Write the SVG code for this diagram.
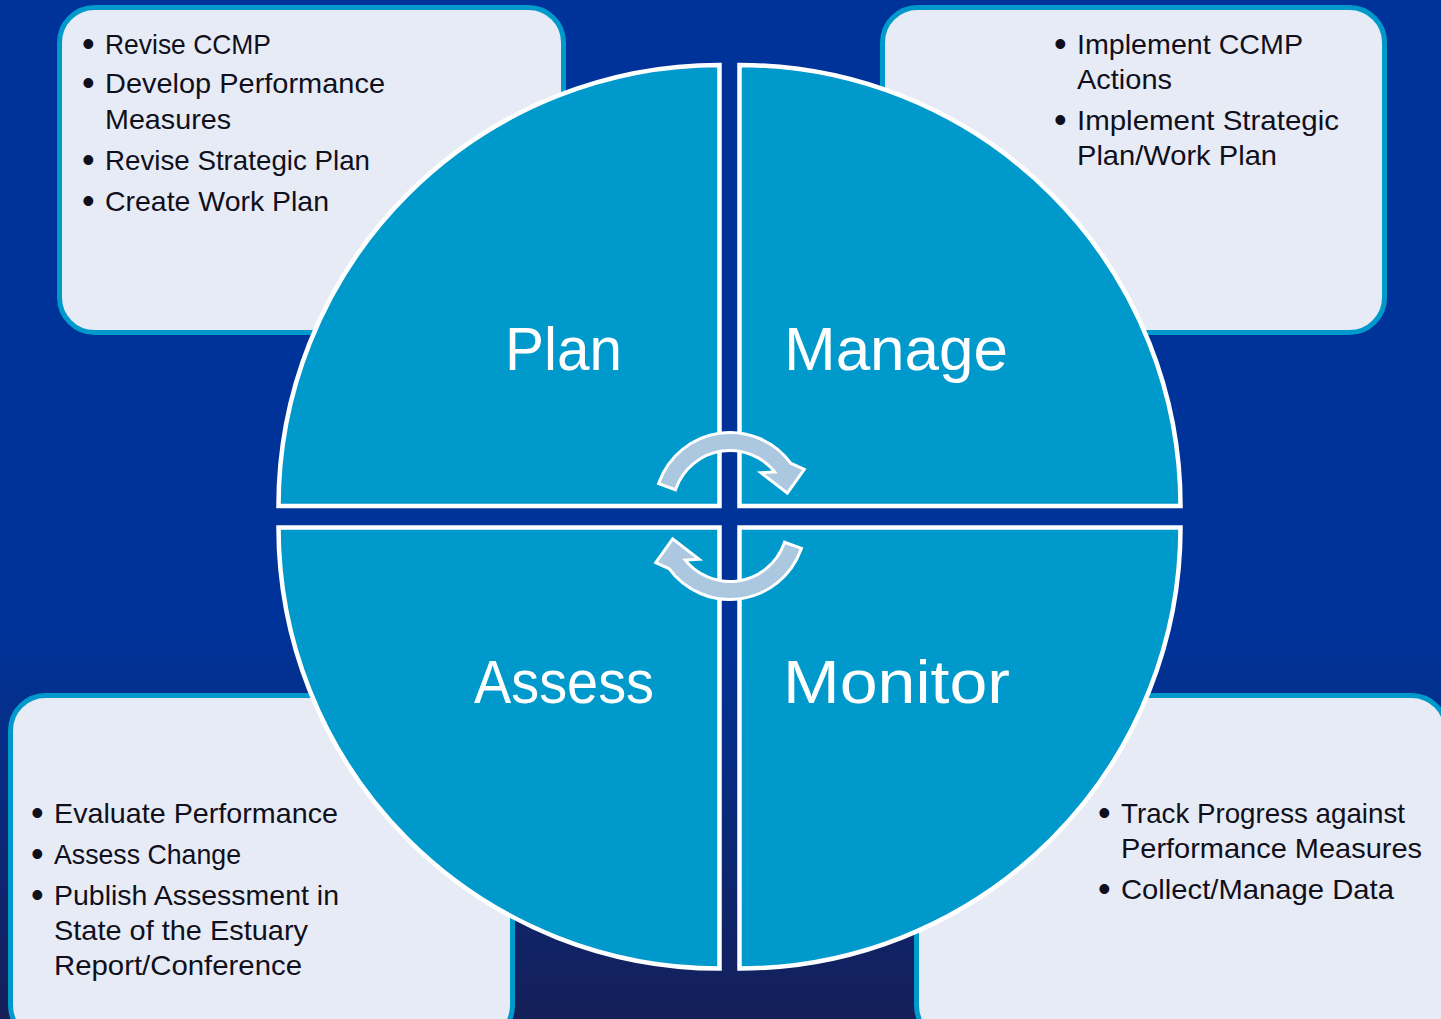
<svg xmlns="http://www.w3.org/2000/svg" width="1441" height="1019" viewBox="0 0 1441 1019">
<defs>
<linearGradient id="bg" x1="0" y1="0" x2="0" y2="1">
<stop offset="0" stop-color="#003399"/>
<stop offset="0.62" stop-color="#003399"/>
<stop offset="1" stop-color="#151f58"/>
</linearGradient>
<style>
.box{fill:#e7ebf5;stroke:#0099cc;stroke-width:5}
.quad{fill:#0099cc;stroke:#ffffff;stroke-width:4.5;stroke-linejoin:miter}
.arrow{fill:#abc8e0;stroke:#ffffff;stroke-width:6;stroke-linejoin:miter;paint-order:stroke}
.t{font-family:"Liberation Sans",Arial,sans-serif;font-size:28.5px;fill:#10101c}
.b{font-family:"Liberation Sans",Arial,sans-serif;font-size:36px;fill:#10101c}
.big{font-family:"Liberation Sans",Arial,sans-serif;font-size:62px;fill:#ffffff}
</style>
</defs>
<rect x="0" y="0" width="1441" height="1019" fill="url(#bg)"/>

<g id="box-plan">
<rect class="box" x="59.5" y="7.5" width="504" height="325" rx="35"/>
<text class="b" x="82" y="56">•</text><text class="t" x="105" y="54" textLength="166" lengthAdjust="spacingAndGlyphs">Revise CCMP</text>
<text class="b" x="82" y="95">•</text><text class="t" x="105" y="93" textLength="280" lengthAdjust="spacingAndGlyphs">Develop Performance</text>
<text class="t" x="105" y="129" textLength="126" lengthAdjust="spacingAndGlyphs">Measures</text>
<text class="b" x="82" y="172">•</text><text class="t" x="105" y="170" textLength="265" lengthAdjust="spacingAndGlyphs">Revise Strategic Plan</text>
<text class="b" x="82" y="213">•</text><text class="t" x="105" y="211" textLength="224" lengthAdjust="spacingAndGlyphs">Create Work Plan</text>
</g>

<g id="box-manage">
<rect class="box" x="882.5" y="7.5" width="502" height="325" rx="35"/>
<text class="b" x="1054" y="56">•</text><text class="t" x="1077" y="54" textLength="226" lengthAdjust="spacingAndGlyphs">Implement CCMP</text>
<text class="t" x="1077" y="89" textLength="95" lengthAdjust="spacingAndGlyphs">Actions</text>
<text class="b" x="1054" y="132">•</text><text class="t" x="1077" y="130" textLength="262" lengthAdjust="spacingAndGlyphs">Implement Strategic</text>
<text class="t" x="1077" y="165" textLength="200" lengthAdjust="spacingAndGlyphs">Plan/Work Plan</text>
</g>

<g id="box-assess">
<rect class="box" x="10.5" y="695.5" width="502" height="345" rx="35"/>
<text class="b" x="31" y="825">•</text><text class="t" x="54" y="823" textLength="284" lengthAdjust="spacingAndGlyphs">Evaluate Performance</text>
<text class="b" x="31" y="866">•</text><text class="t" x="54" y="864" textLength="187" lengthAdjust="spacingAndGlyphs">Assess Change</text>
<text class="b" x="31" y="907">•</text><text class="t" x="54" y="905" textLength="285" lengthAdjust="spacingAndGlyphs">Publish Assessment in</text>
<text class="t" x="54" y="940" textLength="254" lengthAdjust="spacingAndGlyphs">State of the Estuary</text>
<text class="t" x="54" y="975" textLength="248" lengthAdjust="spacingAndGlyphs">Report/Conference</text>
</g>

<g id="box-monitor">
<rect class="box" x="916.5" y="695.5" width="530" height="345" rx="35"/>
<text class="b" x="1098" y="825">•</text><text class="t" x="1121" y="823" textLength="284" lengthAdjust="spacingAndGlyphs">Track Progress against</text>
<text class="t" x="1121" y="858" textLength="301" lengthAdjust="spacingAndGlyphs">Performance Measures</text>
<text class="b" x="1098" y="901">•</text><text class="t" x="1121" y="899" textLength="273" lengthAdjust="spacingAndGlyphs">Collect/Manage Data</text>
</g>

<g id="plan">
<path class="quad" d="M719.5 506 L278.5 506 A441 441 0 0 1 719.5 65 Z"/>
<text class="big" x="505" y="370" textLength="117" lengthAdjust="spacingAndGlyphs">Plan</text>
</g>
<g id="manage">
<path class="quad" d="M739.5 506 L739.5 65 A441 441 0 0 1 1180.5 506 Z"/>
<text class="big" x="784" y="370" textLength="224" lengthAdjust="spacingAndGlyphs">Manage</text>
</g>
<g id="monitor">
<path class="quad" d="M739.5 527.5 L1180.5 527.5 A441 441 0 0 1 739.5 968.5 Z"/>
<text class="big" x="783" y="703" textLength="227" lengthAdjust="spacingAndGlyphs">Monitor</text>
</g>
<g id="assess">
<path class="quad" d="M719.5 527.5 L719.5 968.5 A441 441 0 0 1 278.5 527.5 Z"/>
<text class="big" x="474" y="703" textLength="180" lengthAdjust="spacingAndGlyphs">Assess</text>
</g>

<g id="connectors">
<path id="cycle-top" class="arrow" d="M660.5 482.7 A74 74 0 0 1 789.9 464.5 L802 470 L787 491 L765 474 L777.7 473.3 A59 59 0 0 0 674.6 487.8 Z"/>
<path id="cycle-bottom" class="arrow" transform="rotate(180 730 516)" d="M660.5 482.7 A74 74 0 0 1 789.9 464.5 L802 470 L787 491 L765 474 L777.7 473.3 A59 59 0 0 0 674.6 487.8 Z"/>
</g>
</svg>
